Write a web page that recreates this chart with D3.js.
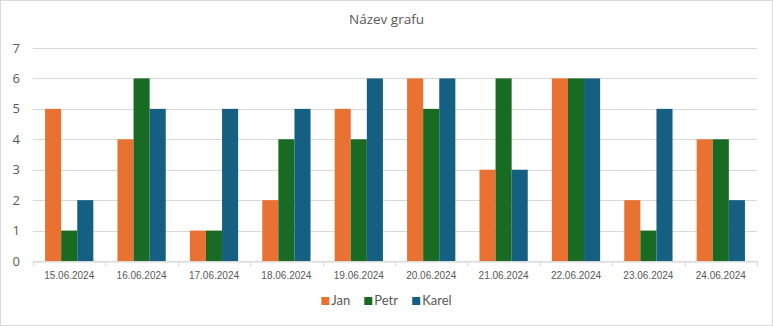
<!DOCTYPE html>
<html><head><meta charset="utf-8">
<script src="https://cdn.jsdelivr.net/npm/d3@7"></script>
<style>
body{margin:0;background:#fff;}
svg{display:block;}
</style></head>
<body>
<svg id="chart" width="773" height="326"></svg>
<script>
const categories = ["15.06.2024","16.06.2024","17.06.2024","18.06.2024","19.06.2024","20.06.2024","21.06.2024","22.06.2024","23.06.2024","24.06.2024"];
const seriesNames = ["Jan","Petr","Karel"];
const jan   = [5,4,1,2,5,6,3,6,2,4];
const petr  = [1,6,1,4,4,5,6,6,1,4];
const karel = [2,5,5,5,6,6,3,6,5,2];
const yTicks = [0,1,2,3,4,5,6,7];
const colors = ["#E97132","#196B24","#156082"];
const title = "Název grafu";

const values = [jan, petr, karel];
const W = 773, H = 326;
const m = {left: 33, right: 16, top: 48, bottom: 65};
const svg = d3.select("#chart");

svg.append("rect").attr("x",0.5).attr("y",0.5).attr("width",W-1).attr("height",H-1)
  .attr("fill","#fff").attr("stroke","#d9d9d9");

const x = d3.scaleBand().domain(categories).range([m.left, W-m.right]).paddingInner(0).paddingOuter(0);
// 50% gap width between groups: 0.75 bar on each side
const inner = d3.scaleBand().domain(seriesNames).range([0, x.bandwidth()]).paddingInner(0).paddingOuter(0.75);
const y = d3.scaleLinear().domain([0,7]).range([H-m.bottom, m.top]);

// gridlines
svg.append("g").selectAll("line").data(yTicks).join("line")
  .attr("x1", m.left).attr("x2", W-m.right)
  .attr("y1", d=>Math.round(y(d))+0.5).attr("y2", d=>Math.round(y(d))+0.5)
  .attr("stroke","#d9d9d9").attr("stroke-width",1);

// y labels
svg.append("g").selectAll("text").data(yTicks).join("text")
  .attr("x", 20).attr("y", d=>y(d)).attr("dy","0.35em")
  .attr("text-anchor","end")
  .attr("font-family","Open Sans, sans-serif").attr("font-size",13).attr("fill","#595959")
  .text(d=>d);

// bars
const groups = svg.append("g").selectAll("g").data(categories).join("g")
  .attr("transform", d=>`translate(${x(d)},0)`);
groups.selectAll("rect").data((c,i)=>seriesNames.map((s,k)=>({s, k, v: values[k][i]}))).join("rect")
  .attr("x", d=>inner(d.s)).attr("width", inner.bandwidth())
  .attr("y", d=>y(d.v)).attr("height", d=>y(0)-y(d.v))
  .attr("fill", d=>colors[d.k]);

// x axis
const xAxis = d3.axisBottom(x).tickSize(0).tickPadding(10);
const gx = svg.append("g").attr("transform",`translate(0,${Math.round(y(0))+0.5})`).call(xAxis);
gx.select(".domain").attr("stroke","#d9d9d9");
gx.selectAll("text").attr("font-family","Liberation Sans, Arial, sans-serif").attr("font-size",10).attr("fill","#595959");
// category boundary ticks
svg.append("g").selectAll("line").data(d3.range(categories.length+1)).join("line")
  .attr("x1", i=>Math.round(m.left + i*x.step())+0.5).attr("x2", i=>Math.round(m.left + i*x.step())+0.5)
  .attr("y1", Math.round(y(0))).attr("y2", Math.round(y(0))+5)
  .attr("stroke","#d9d9d9");

// title
svg.append("text").attr("x", W/2).attr("y", 24).attr("text-anchor","middle")
  .attr("font-family","Open Sans, sans-serif").attr("font-size",13.5).attr("fill","#595959")
  .text(title);

// legend
const legend = svg.append("g");
const items = legend.selectAll("g").data(seriesNames).join("g");
items.append("rect").attr("width",8).attr("height",8).attr("y",-8).attr("fill",(d,i)=>colors[i]);
items.append("text").attr("x",10).attr("y",0)
  .attr("font-family","Lato, sans-serif").attr("font-size",13).attr("fill","#595959")
  .text(d=>d);
let off = 0;
items.each(function(){
  const g = d3.select(this);
  g.attr("transform",`translate(${off},0)`);
  off += this.getBBox().width + 14;
});
off -= 14;
legend.attr("transform",`translate(${(W-off)/2},305)`);
</script>
</body></html>
